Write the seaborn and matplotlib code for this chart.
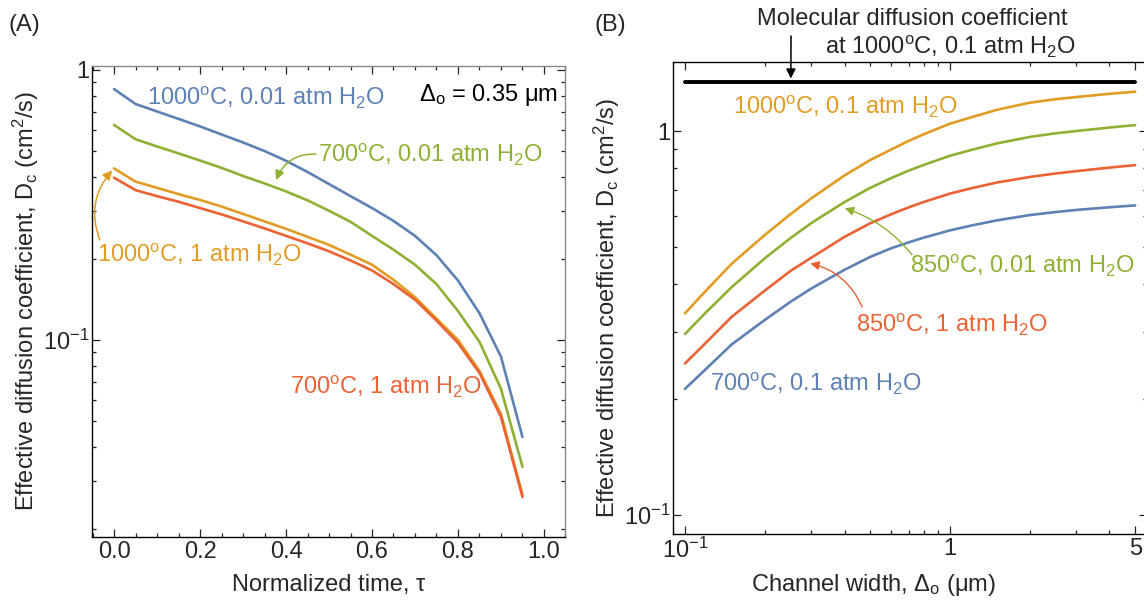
import matplotlib
matplotlib.use("Agg")
import matplotlib.pyplot as plt
import seaborn as sns
import pandas as pd
from matplotlib.ticker import FixedLocator, FixedFormatter, NullFormatter

# ---------------- Panel A data ----------------
tau = [0.00, 0.05, 0.10, 0.15, 0.20, 0.25, 0.30, 0.35, 0.40, 0.45,
       0.50, 0.55, 0.60, 0.65, 0.70, 0.75, 0.80, 0.85, 0.90, 0.95]
dcA_1000C_001atm = [0.850, 0.748, 0.702, 0.659, 0.618, 0.577, 0.539, 0.501, 0.461, 0.419,
                    0.378, 0.341, 0.308, 0.276, 0.243, 0.206, 0.166, 0.1256, 0.0867, 0.0437]
dcA_700C_001atm = [0.626, 0.554, 0.521, 0.491, 0.462, 0.434, 0.405, 0.380, 0.355, 0.329,
                   0.301, 0.274, 0.243, 0.216, 0.190, 0.161, 0.128, 0.0984, 0.0659, 0.0339]
dcA_1000C_1atm = [0.432, 0.386, 0.366, 0.347, 0.330, 0.312, 0.293, 0.275, 0.258, 0.241,
                  0.225, 0.207, 0.190, 0.167, 0.144, 0.120, 0.100, 0.0768, 0.0532, 0.0267]
dcA_700C_1atm = [0.399, 0.359, 0.341, 0.325, 0.308, 0.292, 0.275, 0.259, 0.243, 0.228,
                 0.213, 0.197, 0.181, 0.161, 0.141, 0.118, 0.0975, 0.0755, 0.0519, 0.0262]

# ---------------- Panel B data ----------------
width_um = [0.1, 0.12, 0.15, 0.2, 0.25, 0.3, 0.4, 0.5, 0.6, 0.7,
            0.8, 1.0, 1.2, 1.5, 2.0, 2.5, 3.0, 4.0, 5.0]
dcB_1000C_01atm = [0.335, 0.384, 0.451, 0.536, 0.607, 0.668, 0.766, 0.840, 0.895, 0.943,
                   0.982, 1.045, 1.085, 1.135, 1.185, 1.210, 1.226, 1.250, 1.266]
dcB_850C_001atm = [0.296, 0.337, 0.392, 0.466, 0.526, 0.576, 0.653, 0.711, 0.754, 0.789,
                   0.817, 0.862, 0.892, 0.928, 0.965, 0.986, 1.000, 1.021, 1.036]
dcB_850C_1atm = [0.248, 0.281, 0.328, 0.384, 0.432, 0.468, 0.530, 0.575, 0.607, 0.633,
                 0.654, 0.687, 0.709, 0.734, 0.759, 0.775, 0.786, 0.803, 0.815]
dcB_700C_01atm = [0.213, 0.240, 0.278, 0.322, 0.359, 0.389, 0.435, 0.470, 0.495, 0.513,
                  0.528, 0.551, 0.567, 0.585, 0.604, 0.615, 0.623, 0.633, 0.640]
molecular_width = [0.1, 5.0]
molecular_dc = [1.344, 1.344]

BLUE = "#5E81B5"
ORANGE = "#E19C24"
GREEN = "#8FB032"
RED = "#EB6235"

sns.set_style("ticks")
plt.rcParams["font.family"] = ["Liberation Sans", "DejaVu Sans"]
plt.rcParams["mathtext.fontset"] = "custom"
plt.rcParams["mathtext.rm"] = "Liberation Sans"
plt.rcParams["mathtext.it"] = "Liberation Sans:italic"
plt.rcParams["mathtext.bf"] = "Liberation Sans:bold"
plt.rcParams["mathtext.default"] = "regular"
FS = 17

fig = plt.figure(figsize=(11.44, 6.03), dpi=100)
axA = fig.add_axes([0.0807, 0.110, 0.4136, 0.781])
axB = fig.add_axes([0.5885, 0.1144, 0.4141, 0.7823])

# ---------------- Panel A ----------------
for vals, col in [(dcA_1000C_001atm, BLUE), (dcA_700C_001atm, GREEN),
                  (dcA_1000C_1atm, ORANGE), (dcA_700C_1atm, RED)]:
    df = pd.DataFrame({"tau": tau, "dc": vals})
    sns.lineplot(data=df, x="tau", y="dc", ax=axA, color=col, lw=1.9,
                 estimator=None, sort=False)

axA.set_yscale("log")
axA.set_xlim(-0.0505, 1.05)
axA.set_ylim(0.01868, 1.037)
axA.xaxis.set_major_locator(FixedLocator([0.0, 0.2, 0.4, 0.6, 0.8, 1.0]))
axA.xaxis.set_major_formatter(FixedFormatter(["0.0", "0.2", "0.4", "0.6", "0.8", "1.0"]))
axA.xaxis.set_minor_locator(FixedLocator([i * 0.05 for i in range(-1, 22)]))
axA.xaxis.set_minor_formatter(NullFormatter())
axA.yaxis.set_major_locator(FixedLocator([0.1, 1.0]))
axA.yaxis.set_major_formatter(FixedFormatter([r"$10^{-1}$", "1"]))
axA.yaxis.set_minor_locator(FixedLocator([0.02, 0.03, 0.04, 0.05, 0.06, 0.07, 0.08, 0.09,
                                          0.2, 0.3, 0.4, 0.5, 0.6, 0.7, 0.8, 0.9]))
axA.yaxis.set_minor_formatter(NullFormatter())
axA.tick_params(which="both", direction="in", top=True, right=True,
                labelsize=FS, width=0.9, color="#222222")
axA.tick_params(which="major", length=5.5)
axA.tick_params(which="minor", length=3)
axA.tick_params(axis="x", pad=3)
axA.tick_params(axis="y", pad=2)
for s in ["top", "right"]:
    axA.spines[s].set_color("#888888")
for s in ["left", "bottom"]:
    axA.spines[s].set_color("black")
for s in axA.spines.values():
    s.set_linewidth(1.0)
axA.set_xlabel("Normalized time, τ", fontsize=FS)
axA.set_ylabel(r"Effective diffusion coefficient, D$_c$ (cm$^2$/s)", fontsize=FS)
axA.xaxis.set_label_coords(0.5, -0.079)
axA.yaxis.set_label_coords(-0.108, 0.5)

axA.text(0.077, 0.79, r"1000$^{o}$C, 0.01 atm H$_2$O", color=BLUE, fontsize=FS,
         ha="left", va="center")
axA.text(0.709, 0.81, r"Δ$_o$ = 0.35 μm", color="black", fontsize=FS,
         ha="left", va="center")
axA.text(0.474, 0.484, r"700$^{o}$C, 0.01 atm H$_2$O", color=GREEN, fontsize=FS,
         ha="left", va="center")
axA.text(-0.04, 0.206, r"1000$^{o}$C, 1 atm H$_2$O", color=ORANGE, fontsize=FS,
         ha="left", va="center")
axA.text(0.409, 0.0669, r"700$^{o}$C, 1 atm H$_2$O", color=RED, fontsize=FS,
         ha="left", va="center")
axA.annotate("", xy=(0.377, 0.391), xytext=(0.470, 0.488),
             arrowprops=dict(arrowstyle="-|>", color=GREEN, lw=1.1,
                             connectionstyle="arc3,rad=0.35", mutation_scale=14,
                             shrinkA=0, shrinkB=0))
axA.annotate("", xy=(-0.004, 0.425), xytext=(-0.033, 0.235),
             arrowprops=dict(arrowstyle="-|>", color=ORANGE, lw=1.1,
                             connectionstyle="arc3,rad=-0.3", mutation_scale=14,
                             shrinkA=0, shrinkB=0))

# ---------------- Panel B ----------------
sns.lineplot(x=molecular_width, y=molecular_dc, ax=axB, color="black", lw=2.8)
for vals, col in [(dcB_1000C_01atm, ORANGE), (dcB_850C_001atm, GREEN),
                  (dcB_850C_1atm, RED), (dcB_700C_01atm, BLUE)]:
    df = pd.DataFrame({"w": width_um, "dc": vals})
    sns.lineplot(data=df, x="w", y="dc", ax=axB, color=col, lw=1.9,
                 estimator=None, sort=False)

axB.set_xscale("log")
axB.set_yscale("log")
axB.set_xlim(0.0903, 5.54)
axB.set_ylim(0.0892, 1.51)
axB.xaxis.set_major_locator(FixedLocator([0.1, 1.0, 5.0]))
axB.xaxis.set_major_formatter(FixedFormatter([r"$10^{-1}$", "1", "5"]))
axB.xaxis.set_minor_locator(FixedLocator([0.2, 0.3, 0.4, 0.5, 0.6, 0.7, 0.8, 0.9, 2, 3, 4]))
axB.xaxis.set_minor_formatter(NullFormatter())
axB.yaxis.set_major_locator(FixedLocator([0.1, 1.0]))
axB.yaxis.set_major_formatter(FixedFormatter([r"$10^{-1}$", "1"]))
axB.yaxis.set_minor_locator(FixedLocator([0.2, 0.3, 0.4, 0.5, 0.6, 0.7, 0.8, 0.9]))
axB.yaxis.set_minor_formatter(NullFormatter())
axB.tick_params(which="both", direction="in", top=True, right=True,
                labelsize=FS, width=0.9, color="#222222")
axB.tick_params(which="major", length=5.5)
axB.tick_params(which="minor", length=3)
axB.tick_params(axis="x", pad=3)
axB.tick_params(axis="y", pad=2)
for s in axB.spines.values():
    s.set_color("black")
    s.set_linewidth(1.0)
axB.set_xlabel(r"Channel width, Δ$_o$ (μm)", fontsize=FS)
axB.set_ylabel(r"Effective diffusion coefficient, D$_c$ (cm$^2$/s)", fontsize=FS)
axB.xaxis.set_label_coords(0.4216, -0.081)
axB.yaxis.set_label_coords(-0.108, 0.48)

axB.text(0.152, 1.157, r"1000$^{o}$C, 0.1 atm H$_2$O", color=ORANGE, fontsize=FS,
         ha="left", va="center")
axB.text(0.706, 0.444, r"850$^{o}$C, 0.01 atm H$_2$O", color=GREEN, fontsize=FS,
         ha="left", va="center")
axB.text(0.442, 0.313, r"850$^{o}$C, 1 atm H$_2$O", color=RED, fontsize=FS,
         ha="left", va="center")
axB.text(0.124, 0.219, r"700$^{o}$C, 0.1 atm H$_2$O", color=BLUE, fontsize=FS,
         ha="left", va="center")
axB.annotate("", xy=(0.401, 0.629), xytext=(0.719, 0.476),
             arrowprops=dict(arrowstyle="-|>", color=GREEN, lw=1.0,
                             connectionstyle="arc3,rad=0.15", mutation_scale=13,
                             shrinkA=0, shrinkB=0))
axB.annotate("", xy=(0.297, 0.452), xytext=(0.466, 0.348),
             arrowprops=dict(arrowstyle="-|>", color=RED, lw=1.0,
                             connectionstyle="arc3,rad=0.25", mutation_scale=13,
                             shrinkA=0, shrinkB=0))
axB.annotate("", xy=(0.251, 1.37), xycoords="data",
             xytext=(791 / 1144, 1 - 36 / 603), textcoords="figure fraction",
             arrowprops=dict(arrowstyle="-|>", color="black", lw=1.1,
                             mutation_scale=14, shrinkA=0, shrinkB=0))

fig.text(912 / 1144, 1 - 19 / 603, "Molecular diffusion coefficient", fontsize=FS,
         ha="center", va="center")
fig.text(950 / 1144, 1 - 47 / 603, r"at 1000$^{o}$C, 0.1 atm H$_2$O", fontsize=FS,
         ha="center", va="center")
fig.text(8 / 1144, 1 - 25 / 603, "(A)", fontsize=FS, ha="left", va="center")
fig.text(594 / 1144, 1 - 25 / 603, "(B)", fontsize=FS, ha="left", va="center")

fig.savefig("out.png", dpi=100)
